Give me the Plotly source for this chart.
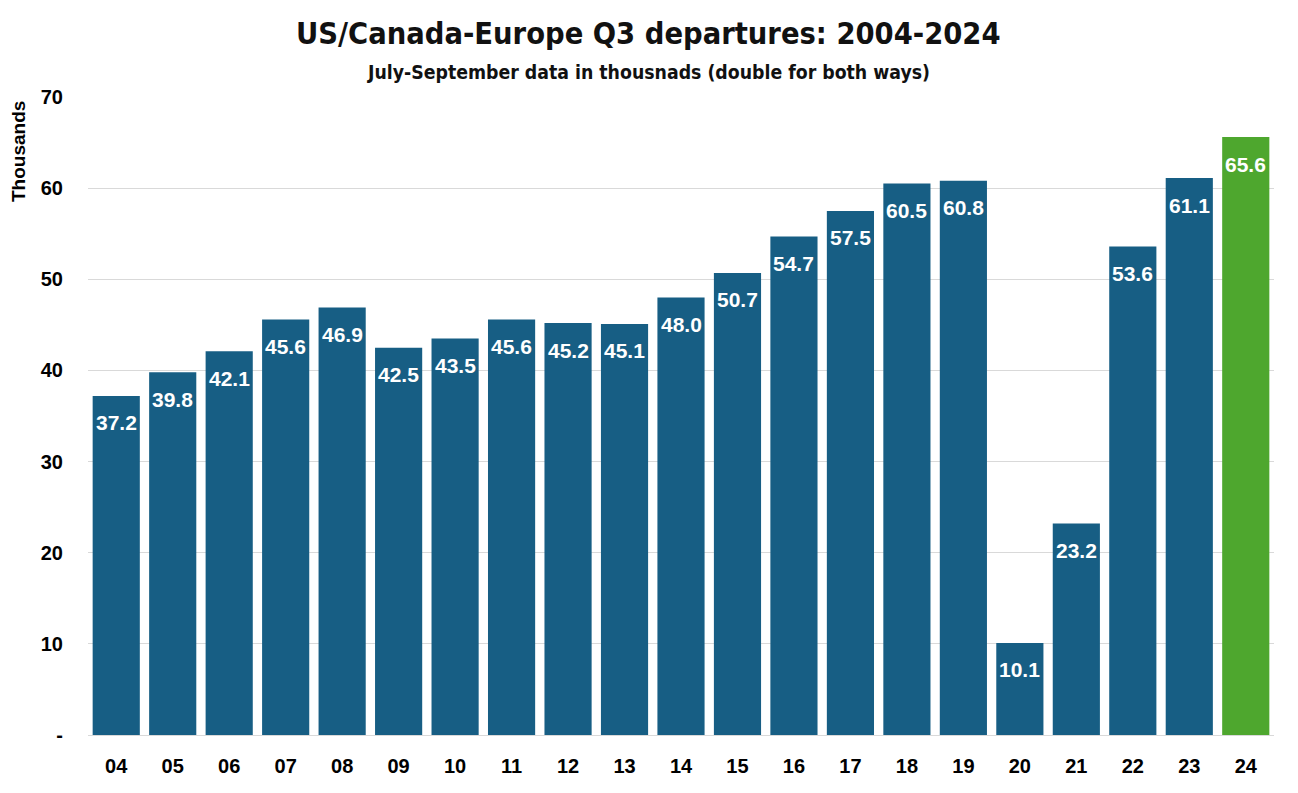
import plotly.graph_objects as go

years = ["04","05","06","07","08","09","10","11","12","13","14","15","16","17","18","19","20","21","22","23","24"]
values = [37.2,39.8,42.1,45.6,46.9,42.5,43.5,45.6,45.2,45.1,48.0,50.7,54.7,57.5,60.5,60.8,10.1,23.2,53.6,61.1,65.6]
y_ticks = [0,10,20,30,40,50,60,70]
y_tick_text = ["-","10","20","30","40","50","60","70"]

BLUE = "#175E84"
GREEN = "#4EA72E"
colors = [GREEN if y == "24" else BLUE for y in years]

fig = go.Figure(go.Bar(
    x=years, y=values,
    marker=dict(color=colors, line=dict(width=0)),
    hoverinfo="x+y",
))

# value labels, placed on the category axis by index
for i, v in enumerate(values):
    fig.add_annotation(x=i, y=v, xref="x", yref="y", text=f"<b>{v:.1f}</b>",
                       showarrow=False, yshift=-27, yanchor="middle", xanchor="center",
                       font=dict(color="white", size=21, family="Liberation Sans, Arial, sans-serif"))

fig.update_layout(
    width=1298, height=793,
    margin=dict(l=80, r=32, t=89, b=66),
    paper_bgcolor="white", plot_bgcolor="white",
    bargap=0.165,
    showlegend=False,
    font=dict(family="Liberation Sans, Arial, sans-serif", color="black"),
)
fig.update_xaxes(
    type="category",
    categoryorder="array", categoryarray=years,
    range=[-0.5, len(years) - 0.5],
    tickfont=dict(size=20, color="black", weight="bold"),
    showgrid=False, showline=False, ticks="",
    ticklabelstandoff=17,
)
fig.update_yaxes(
    range=[0, 70], tickvals=y_ticks, ticktext=y_tick_text,
    tickfont=dict(size=20, color="black", weight="bold"),
    showgrid=True, gridcolor="#D9D9D9", gridwidth=1,
    zeroline=True, zerolinecolor="#D9D9D9", zerolinewidth=1,
    ticks="", ticklabelstandoff=24,
)
TITLE_FONT = "Liberation Sans Narrow, DejaVu Sans Condensed, Arial Narrow, sans-serif"
fig.add_annotation(text="<b>US/Canada-Europe Q3 departures: 2004-2024</b>",
                   xref="paper", yref="paper", x=0.5, xshift=-33, y=1.0, yshift=64,
                   xanchor="center", yanchor="middle", showarrow=False,
                   font=dict(size=30.5, color="#111111", family=TITLE_FONT))
fig.add_annotation(text="<b>July-September data in thousnads (double for both ways)</b>",
                   xref="paper", yref="paper", x=0.5, xshift=-33, y=1.0, yshift=25,
                   xanchor="center", yanchor="middle", showarrow=False,
                   font=dict(size=19.3, color="#111111", family=TITLE_FONT))
fig.add_annotation(text="<b>Thousands</b>", textangle=-90,
                   xref="paper", yref="paper", x=0, xshift=-70, y=1.0, yshift=-55,
                   xanchor="center", yanchor="middle", showarrow=False,
                   font=dict(size=19, color="black"))

fig.write_html("out.html")
